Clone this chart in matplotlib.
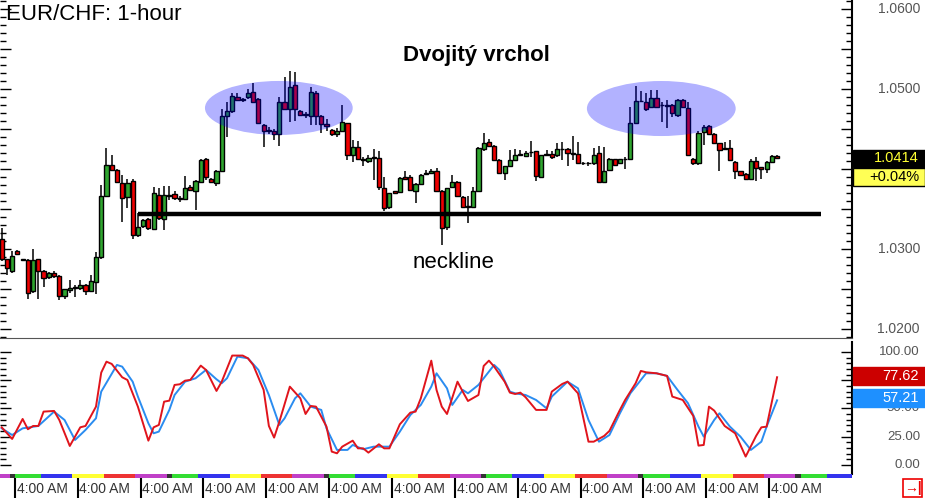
import matplotlib
matplotlib.use("Agg")
import numpy as np
import matplotlib.pyplot as plt
import matplotlib.transforms as mtransforms
from matplotlib.patches import Ellipse, Rectangle

plt.rcParams['font.family'] = ['Liberation Sans', 'DejaVu Sans']

# EUR/CHF hourly candles
opens = [1.0312, 1.0287, 1.0273, 1.0298, 1.0287, 1.0286, 1.0247, 1.0287, 1.0273, 1.0265,
         1.0270, 1.0266, 1.0241, 1.0249, 1.0251, 1.0251, 1.0255, 1.0247, 1.0259, 1.0290,
         1.0366, 1.0405, 1.0399, 1.0382, 1.0365, 1.0385, 1.0317, 1.0329, 1.0338, 1.0325,
         1.0368, 1.0338, 1.0367, 1.0369, 1.0364, 1.0363, 1.0377, 1.0372, 1.0384, 1.0413,
         1.0388, 1.0382, 1.0398, 1.0466, 1.0472, 1.0490, 1.0487, 1.0490, 1.0496, 1.0488,
         1.0455, 1.0448, 1.0448, 1.0444, 1.0484, 1.0475, 1.0505, 1.0473, 1.0468, 1.0466,
         1.0495, 1.0466, 1.0456, 1.0449, 1.0444, 1.0447, 1.0457, 1.0418, 1.0427, 1.0412,
         1.0410, 1.0414, 1.0414, 1.0376, 1.0352, 1.0372, 1.0371, 1.0390, 1.0390, 1.0372,
         1.0381, 1.0394, 1.0395, 1.0397, 1.0373, 1.0327, 1.0378, 1.0384, 1.0365, 1.0353,
         1.0353, 1.0372, 1.0425, 1.0434, 1.0429, 1.0411, 1.0395, 1.0404, 1.0411, 1.0418,
         1.0416, 1.0421, 1.0422, 1.0390, 1.0418, 1.0419, 1.0417, 1.0425, 1.0425, 1.0420,
         1.0419, 1.0407, 1.0407, 1.0407, 1.0420, 1.0384, 1.0399, 1.0412, 1.0407, 1.0412,
         1.0413, 1.0458, 1.0485, 1.0484, 1.0477, 1.0489, 1.0480, 1.0480, 1.0480, 1.0468,
         1.0486, 1.0476, 1.0413, 1.0408, 1.0446, 1.0454, 1.0444, 1.0432, 1.0425, 1.0426,
         1.0409, 1.0397, 1.0394, 1.0388, 1.0410, 1.0402, 1.0400, 1.0409, 1.0416]
highs = [1.0326, 1.0288, 1.0297, 1.0299, 1.0288, 1.0287, 1.0300, 1.0288, 1.0274, 1.0271,
         1.0272, 1.0267, 1.0250, 1.0261, 1.0255, 1.0261, 1.0256, 1.0268, 1.0296, 1.0380,
         1.0426, 1.0418, 1.0400, 1.0393, 1.0388, 1.0388, 1.0345, 1.0337, 1.0339, 1.0378,
         1.0376, 1.0379, 1.0379, 1.0372, 1.0366, 1.0391, 1.0380, 1.0386, 1.0413, 1.0414,
         1.0389, 1.0399, 1.0475, 1.0484, 1.0495, 1.0495, 1.0489, 1.0500, 1.0507, 1.0489,
         1.0456, 1.0452, 1.0450, 1.0490, 1.0515, 1.0522, 1.0521, 1.0474, 1.0471, 1.0503,
         1.0497, 1.0467, 1.0462, 1.0450, 1.0451, 1.0480, 1.0458, 1.0436, 1.0435, 1.0415,
         1.0418, 1.0425, 1.0422, 1.0390, 1.0370, 1.0373, 1.0390, 1.0397, 1.0392, 1.0382,
         1.0394, 1.0399, 1.0400, 1.0401, 1.0374, 1.0376, 1.0393, 1.0385, 1.0366, 1.0366,
         1.0378, 1.0427, 1.0445, 1.0438, 1.0430, 1.0412, 1.0404, 1.0424, 1.0425, 1.0424,
         1.0422, 1.0435, 1.0423, 1.0418, 1.0424, 1.0422, 1.0433, 1.0434, 1.0426, 1.0441,
         1.0434, 1.0409, 1.0409, 1.0426, 1.0429, 1.0428, 1.0414, 1.0413, 1.0413, 1.0415,
         1.0478, 1.0504, 1.0498, 1.0495, 1.0499, 1.0499, 1.0484, 1.0486, 1.0481, 1.0488,
         1.0487, 1.0484, 1.0414, 1.0448, 1.0455, 1.0455, 1.0445, 1.0433, 1.0434, 1.0436,
         1.0410, 1.0398, 1.0395, 1.0413, 1.0415, 1.0403, 1.0410, 1.0417, 1.0417]
lows = [1.0285, 1.0267, 1.0270, 1.0293, 1.0285, 1.0238, 1.0245, 1.0238, 1.0253, 1.0263,
        1.0264, 1.0236, 1.0238, 1.0245, 1.0240, 1.0249, 1.0243, 1.0246, 1.0244, 1.0288,
        1.0365, 1.0397, 1.0383, 1.0334, 1.0351, 1.0313, 1.0315, 1.0326, 1.0324, 1.0324,
        1.0336, 1.0324, 1.0361, 1.0361, 1.0359, 1.0361, 1.0373, 1.0349, 1.0382, 1.0386,
        1.0384, 1.0379, 1.0397, 1.0440, 1.0470, 1.0485, 1.0484, 1.0488, 1.0483, 1.0456,
        1.0427, 1.0444, 1.0436, 1.0429, 1.0474, 1.0459, 1.0460, 1.0468, 1.0464, 1.0455,
        1.0455, 1.0445, 1.0447, 1.0441, 1.0440, 1.0446, 1.0411, 1.0409, 1.0411, 1.0404,
        1.0407, 1.0386, 1.0374, 1.0347, 1.0350, 1.0369, 1.0370, 1.0387, 1.0373, 1.0357,
        1.0380, 1.0393, 1.0394, 1.0372, 1.0305, 1.0324, 1.0377, 1.0365, 1.0352, 1.0333,
        1.0352, 1.0371, 1.0423, 1.0428, 1.0410, 1.0394, 1.0386, 1.0403, 1.0410, 1.0416,
        1.0415, 1.0415, 1.0385, 1.0389, 1.0416, 1.0412, 1.0415, 1.0411, 1.0404, 1.0411,
        1.0407, 1.0405, 1.0404, 1.0405, 1.0383, 1.0383, 1.0397, 1.0404, 1.0406, 1.0400,
        1.0412, 1.0457, 1.0484, 1.0473, 1.0476, 1.0476, 1.0459, 1.0451, 1.0465, 1.0465,
        1.0476, 1.0416, 1.0405, 1.0405, 1.0430, 1.0443, 1.0432, 1.0397, 1.0424, 1.0410,
        1.0388, 1.0392, 1.0388, 1.0387, 1.0385, 1.0388, 1.0395, 1.0408, 1.0413]
closes = [1.0287, 1.0276, 1.0291, 1.0294, 1.0286, 1.0245, 1.0286, 1.0273, 1.0264, 1.0270,
          1.0266, 1.0241, 1.0250, 1.0251, 1.0252, 1.0255, 1.0247, 1.0260, 1.0290, 1.0366,
          1.0405, 1.0399, 1.0384, 1.0364, 1.0382, 1.0318, 1.0327, 1.0336, 1.0326, 1.0370,
          1.0339, 1.0367, 1.0366, 1.0364, 1.0363, 1.0376, 1.0374, 1.0385, 1.0411, 1.0390,
          1.0384, 1.0398, 1.0466, 1.0472, 1.0491, 1.0486, 1.0486, 1.0495, 1.0484, 1.0457,
          1.0448, 1.0448, 1.0444, 1.0484, 1.0475, 1.0503, 1.0475, 1.0468, 1.0468, 1.0496,
          1.0466, 1.0456, 1.0454, 1.0444, 1.0447, 1.0459, 1.0418, 1.0427, 1.0413, 1.0411,
          1.0414, 1.0414, 1.0377, 1.0351, 1.0370, 1.0370, 1.0389, 1.0388, 1.0374, 1.0381,
          1.0393, 1.0395, 1.0397, 1.0373, 1.0326, 1.0376, 1.0384, 1.0366, 1.0353, 1.0354,
          1.0372, 1.0426, 1.0433, 1.0429, 1.0411, 1.0395, 1.0404, 1.0411, 1.0418, 1.0418,
          1.0420, 1.0421, 1.0391, 1.0417, 1.0419, 1.0415, 1.0425, 1.0425, 1.0420, 1.0419,
          1.0408, 1.0407, 1.0407, 1.0418, 1.0384, 1.0397, 1.0413, 1.0405, 1.0412, 1.0413,
          1.0458, 1.0485, 1.0485, 1.0475, 1.0489, 1.0478, 1.0480, 1.0479, 1.0470, 1.0486,
          1.0477, 1.0417, 1.0408, 1.0445, 1.0453, 1.0444, 1.0432, 1.0424, 1.0426, 1.0411,
          1.0397, 1.0393, 1.0388, 1.0410, 1.0401, 1.0400, 1.0409, 1.0416, 1.0414]

# stochastic oscillator (candle index, value)
k_idx = [0, 2, 4, 5, 6, 7, 8, 10, 11, 13, 15, 16, 18, 19, 20, 21, 23, 24, 26, 28,
         29, 30, 31, 32, 33, 34, 35, 36, 38, 39, 41, 42, 44, 46, 47, 48, 50, 51, 52, 53,
         55, 57, 58, 59, 60, 62, 63, 64, 65, 67, 68, 69, 70, 72, 73, 74, 76, 78, 79, 80,
         82, 83, 84, 85, 87, 88, 89, 91, 92, 93, 94, 96, 97, 98, 99, 100, 102, 104, 105, 107,
         108, 110, 112, 113, 115, 116, 118, 119, 121, 122, 123, 125, 127, 128, 130, 132, 133, 134, 135, 136,
         138, 140, 142, 144, 145, 146, 148]
k_val = [33.3, 23.0, 40.7, 31.6, 34.5, 34.5, 47.2, 47.8, 39.8, 16.8, 33.3, 34.5, 51.6, 81.7, 91.4, 89.4, 77.6, 75.2, 51.6, 21.5,
         33.3, 35.4, 56.0, 56.9, 70.8, 71.4, 74.6, 75.2, 87.9, 84.1, 65.5, 73.7, 96.8, 96.8, 94.4, 88.5, 66.4, 34.5, 24.2, 38.3,
         69.3, 59.0, 45.1, 52.2, 51.6, 33.9, 11.8, 10.3, 16.2, 21.5, 14.7, 14.7, 10.9, 18.3, 14.7, 14.7, 36.0, 46.3, 47.2, 59.0,
         92.3, 66.4, 51.6, 45.1, 73.7, 64.9, 56.6, 61.9, 87.6, 92.3, 87.0, 73.7, 64.0, 62.8, 64.0, 59.9, 48.7, 48.7, 64.9, 71.7,
         73.7, 63.4, 20.6, 20.6, 25.7, 30.1, 48.7, 57.5, 72.3, 83.2, 82.0, 81.1, 78.8, 60.5, 57.5, 43.4, 17.1, 17.7, 51.6, 48.1,
         34.5, 28.0, 7.4, 25.7, 33.3, 33.9, 77.62]
d_idx = [0, 2, 4, 7, 10, 12, 14, 16, 18, 19, 22, 23, 25, 26, 28, 29, 30, 32, 33, 35,
         37, 39, 41, 42, 43, 45, 47, 49, 51, 53, 54, 56, 57, 59, 61, 62, 64, 66, 67, 69,
         71, 73, 74, 76, 78, 80, 82, 83, 85, 86, 88, 89, 91, 94, 95, 97, 98, 100, 102, 104,
         105, 108, 110, 112, 114, 116, 118, 120, 123, 125, 127, 129, 131, 133, 134, 136, 137, 139, 141, 143,
         145, 146, 148]
d_val = [32.4, 26.5, 32.4, 34.5, 47.2, 39.8, 22.1, 31.0, 41.3, 64.9, 88.5, 87.0, 73.7, 60.5, 36.9, 28.0, 29.5, 48.7, 61.9, 73.7,
         76.7, 84.1, 75.8, 72.3, 76.7, 95.9, 94.4, 84.1, 61.9, 35.4, 41.3, 59.0, 63.4, 51.6, 48.7, 32.4, 13.3, 13.3, 17.7, 13.9,
         16.2, 16.2, 16.2, 29.5, 44.2, 53.1, 69.3, 81.1, 67.8, 53.1, 66.4, 63.4, 70.8, 88.5, 84.1, 64.9, 63.4, 61.9, 57.5, 50.1,
         60.5, 73.7, 67.8, 39.8, 20.6, 26.5, 45.7, 63.4, 81.1, 81.1, 78.8, 66.4, 54.6, 33.9, 25.1, 39.8, 45.7, 33.9, 25.1, 13.3,
         20.6, 33.9, 57.21]

# axis labels that are visible (1.0400 and 75.00 sit under the value boxes)
price_labels = [1.02, 1.03, 1.05, 1.06]
stoch_ticks = [0, 25, 50, 75, 100]
stoch_labels = [0, 25, 50, 100]
neckline = 1.03438
last_price = "1.0414"
last_change = "+0.04%"
k_last = "77.62"
d_last = "57.21"
time_label = "4:00 AM"
session_colors = ['#333333', '#33dd33', '#3333ee', '#ffff33', '#ee3333', '#c040c8']
session_hours = [1, 5, 6, 6, 6, 6]

W, H = 925, 498
fig = plt.figure(figsize=(W / 100, H / 100), dpi=100)


def fx(px):
    return px / W


def fy(py):
    return 1 - py / H


ax = fig.add_axes([0, fy(338), fx(852), 338 / H])
ax2 = fig.add_axes([0, fy(474), fx(852), 132 / H])
ax3 = fig.add_axes([0, 0, fx(852), 24 / H])
xlim = (-0.32, 162.3)

# candles
x = np.arange(len(closes))
o = np.array(opens)
c = np.array(closes)
cols = np.where(c >= o, '#2fa52f', '#ee0000')
ax.vlines(x, lows, highs, color='black', lw=1.1, zorder=2)
ax.bar(x, np.maximum(np.abs(c - o), 0.00005), bottom=np.minimum(o, c), width=0.8,
       color=cols, edgecolor='black', linewidth=1.0, zorder=3)

# double top highlights and neckline
ax.add_patch(Ellipse((52.9, 1.04763), 28.2, 0.00675, facecolor=(0, 0, 1, 0.3), edgecolor='none', zorder=4))
ax.add_patch(Ellipse((125.9, 1.04756), 28.4, 0.00688, facecolor=(0, 0, 1, 0.3), edgecolor='none', zorder=4))
ax.hlines(neckline, 25.95, 156.4, color='black', lw=3.2, zorder=5)

ax.set_xlim(*xlim)
ax.set_ylim(1.018875, 1.061125)
ax.set_xticks([])
ax.set_yticks(np.arange(1.020, 1.0601, 0.005))
ax.set_yticks(np.arange(1.019, 1.0611, 0.001), minor=True)
ax.tick_params(axis='y', which='both', direction='in', left=True, right=True,
               labelleft=False, labelright=False, width=1, color='black')
ax.tick_params(axis='y', which='major', length=8)
ax.tick_params(axis='y', which='minor', length=4)
for s in ['top', 'left']:
    ax.spines[s].set_visible(False)
ax.spines['right'].set_linewidth(1.5)
ax.spines['bottom'].set_color('#555555')

# stochastic panel
ax2.plot(d_idx, d_val, color='#2a8cf0', lw=1.4, zorder=2)
ax2.plot(k_idx, k_val, color='#e0141c', lw=1.4, zorder=3)
ax2.set_xlim(*xlim)
ax2.set_ylim(-8.0, 108.8)
ax2.set_xticks([])
ax2.set_yticks(stoch_ticks)
ax2.set_yticks(np.arange(0, 101, 5), minor=True)
ax2.tick_params(axis='y', which='both', direction='in', left=True, right=True,
                labelleft=False, labelright=False, width=1, color='black')
ax2.tick_params(axis='y', which='major', length=8)
ax2.tick_params(axis='y', which='minor', length=4)
for s in ['top', 'left', 'bottom']:
    ax2.spines[s].set_visible(False)
ax2.spines['right'].set_linewidth(1.5)

# session strip and time labels
ax3.set_xlim(*xlim)
ax3.set_ylim(0, 1)
ax3.axis('off')
ax3.axvspan(xlim[0], 1.5, ymin=0.82, ymax=1, color=session_colors[-1], lw=0)
start = 1.5
while start < xlim[1]:
    for col, hrs in zip(session_colors, session_hours):
        ax3.axvspan(start, min(start + hrs, xlim[1]), ymin=0.82, ymax=1, color=col, lw=0)
        start += hrs
        if start >= xlim[1]:
            break
for t in np.arange(2.5, 150, 12):
    ax3.vlines(t, 0, 0.82, color='black', lw=1.5)
    ax3.text(t + 0.35, 0.38, time_label, fontsize=10, color='#333333', ha='left', va='center')

# right-hand labels
tr = mtransforms.blended_transform_factory(fig.transFigure, ax.transData)
for p in price_labels:
    ax.text(fx(920), p, f"{p:.4f}", transform=tr, ha='right', va='center',
            fontsize=10, color='#555555', clip_on=False)
tr2 = mtransforms.blended_transform_factory(fig.transFigure, ax2.transData)
for v in stoch_labels:
    ax2.text(fx(920), v, f"{v:.2f}", transform=tr2, ha='right', va='center',
             fontsize=9.5, color='#555555', clip_on=False)


def box(y0, y1, face, edge, text, tcolor):
    fig.add_artist(Rectangle((fx(853), fy(y1)), fx(925) - fx(853), (y1 - y0) / H,
                             transform=fig.transFigure, facecolor=face, edgecolor=edge,
                             lw=1, zorder=10))
    fig.text(fx(919), fy((y0 + y1) / 2), text, ha='right', va='center', fontsize=10.5,
             color=tcolor, zorder=11)


box(150, 167, 'black', 'black', last_price, '#ffff33')
box(168, 186, '#ffff55', 'black', last_change, 'black')
box(367, 385, '#cc0000', '#cc0000', k_last, 'white')
box(389, 407, '#1e90ff', '#1e90ff', d_last, 'white')

fig.add_artist(Rectangle((fx(903), fy(497)), fx(19), 18 / H, transform=fig.transFigure,
                         facecolor='white', edgecolor='#ee0000', lw=1.2, zorder=10))
fig.text(fx(912.5), fy(488), "→|", ha='center', va='center', fontsize=10,
         color='#ee0000', weight='bold', zorder=11)

# titles and annotations
fig.text(fx(6), fy(14), "EUR/CHF: 1-hour", ha='left', va='center', fontsize=16)
fig.text(fx(476), fy(55), "Dvojitý vrchol", ha='center', va='center', fontsize=16, weight='bold')
fig.text(fx(454), fy(262), "neckline", ha='center', va='center', fontsize=16)

fig.savefig("out.png", dpi=100)
